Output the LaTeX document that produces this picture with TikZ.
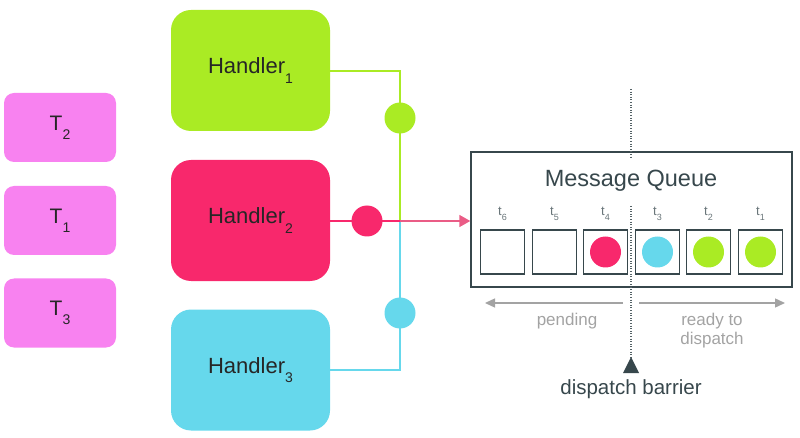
\documentclass[tikz,border=0pt]{standalone}
\usepackage{fontspec}
\setmainfont{Liberation Sans}
\usetikzlibrary{arrows.meta}
\definecolor{hgreen}{HTML}{AAEB24}
\definecolor{hred}{HTML}{F8286C}
\definecolor{hblue}{HTML}{66D8EC}
\definecolor{tpink}{HTML}{F882F0}
\definecolor{txt}{HTML}{262626}
\definecolor{boxc}{HTML}{37474C}
\definecolor{greyc}{HTML}{A3A3A3}
\definecolor{redline}{HTML}{EA5C86}
\newcommand{\mysub}[2]{\raisebox{-0.42em}{\fontsize{#2}{#2}\selectfont #1}}
\tikzset{
  handler/.style={rectangle, rounded corners=20pt, minimum width=159pt, minimum height=121pt, inner sep=0pt, font=\fontsize{22}{22}\selectfont, text=txt},
  tbox/.style={rectangle, rounded corners=10pt, fill=tpink, minimum width=112pt, minimum height=69pt, inner sep=0pt, font=\fontsize{21}{21}\selectfont, text=txt},
  dot/.style={circle, minimum size=31pt, inner sep=0pt},
  slot/.style={rectangle, draw=boxc, line width=1.4pt, minimum size=44pt, inner sep=0pt},
  tlab/.style={font=\fontsize{13}{13}\selectfont, text=boxc!75, inner sep=0pt},
  glab/.style={font=\fontsize{17}{19}\selectfont, text=greyc, align=center, inner sep=0pt},
  barrier/.style={boxc!85, line width=1.1pt, dash pattern=on 1pt off 1.6pt},
}
\begin{document}
\begin{tikzpicture}[x=1pt,y=-1pt]
\useasboundingbox (0,0) rectangle (800,438);
% T boxes
\node[tbox] (t2) at (60,127.5) {T\mysub{2}{14}};
\node[tbox] (t1) at (60,220.5) {T\mysub{1}{14}};
\node[tbox] (t3) at (60,313) {T\mysub{3}{14}};
% handlers
\node[handler, fill=hgreen] (h1) at (250.5,70.5) {Handler\mysub{1}{14}};
\node[handler, fill=hred] (h2) at (250.5,220.5) {Handler\mysub{2}{14}};
\node[handler, fill=hblue] (h3) at (250.5,370) {Handler\mysub{3}{14}};
% junctions
\coordinate (j1) at (400,71);
\coordinate (jc) at (400,221);
\coordinate (j3) at (400,370);
% message queue box
\node[draw=boxc, line width=1.4pt, minimum width=321pt, minimum height=135pt, inner sep=0pt] (mq) at (631.5,219.5) {};
\node[font=\fontsize{23.5}{23.5}\selectfont, text=boxc, inner sep=0pt] (mqt) at (631,181) {Message Queue};
% connectors
\draw[hgreen, line width=1.3pt] (h1.east |- j1) -- (j1) -- (jc);
\draw[hblue, line width=1.3pt] (h3.east |- j3) -- (j3) -- (jc);
\draw[hred, line width=1.3pt] (h2.east |- jc) -- (jc);
\draw[redline, line width=1.5pt, -{Triangle[length=11pt,width=12pt]}] (jc) -- (mq.west |- jc);
\node[dot, fill=hgreen] (gc) at (400,118) {};
\node[dot, fill=hred] (rc) at (367,221) {};
\node[dot, fill=hblue] (bc) at (400,313) {};
% slots
\foreach \i/\x in {6/502.5,5/554.5,4/605.5,3/657.5,2/708.5,1/760.5}{
  \node[slot] (s\i) at (\x,252) {};
  \node[tlab] (l\i) at (\x,214) {t\mysub{\i}{9}};
}
\node[dot, fill=hred] (c4) at (s4) {};
\node[dot, fill=hblue] (c3) at (s3) {};
\node[dot, fill=hgreen] (c2) at (s2) {};
\node[dot, fill=hgreen] (c1) at (s1) {};
% barrier
\coordinate (btop) at (631,89);
\coordinate (bmid1) at (631,157);
\coordinate (bmid2) at (631,206);
\coordinate (bbot) at (631,357);
\draw[barrier] (btop) -- (bmid1);
\draw[barrier] (bmid2) -- (bbot);
\fill[boxc] (bbot) -- (639,373) -- (623,373) -- cycle;
\node[font=\fontsize{20.5}{20.5}\selectfont, text=boxc, inner sep=0pt] (db) at (631,389) {dispatch barrier};
% pending / ready
\coordinate (pl) at (485,303);
\coordinate (pr) at (623,303);
\coordinate (rl) at (639,303);
\coordinate (rr) at (785,303);
\draw[greyc, line width=1.4pt, -{Triangle[length=10pt,width=9pt]}] (pr) -- (pl);
\draw[greyc, line width=1.4pt, -{Triangle[length=10pt,width=9pt]}] (rl) -- (rr);
\node[glab] (pend) at (567,321) {pending};
\node[glab] (rdy) at (712,331) {ready to\\dispatch};
\end{tikzpicture}
\end{document}
